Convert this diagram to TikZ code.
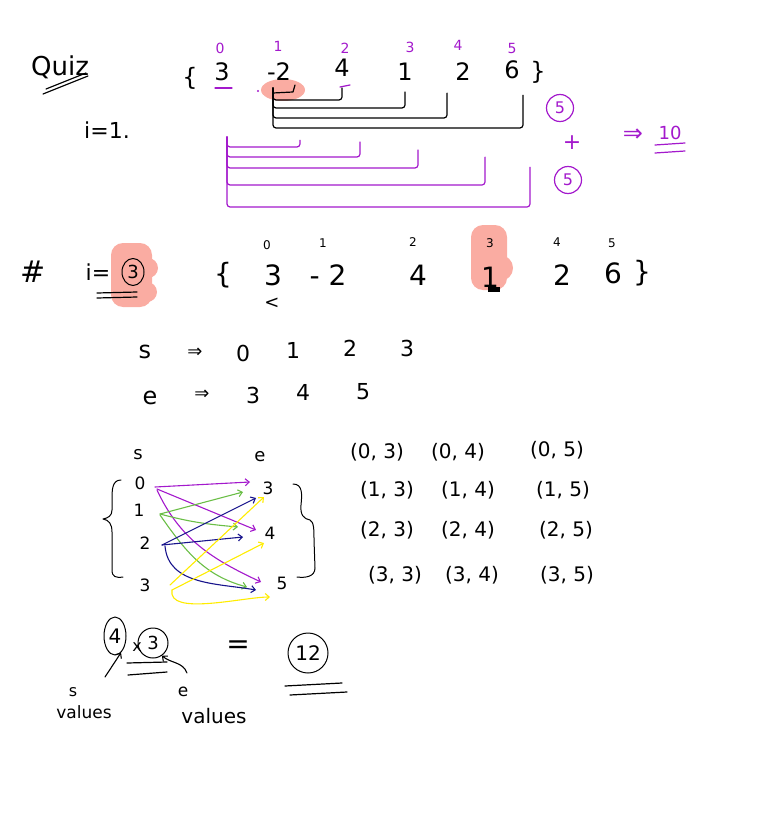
\documentclass[tikz,border=0pt]{standalone}
\usepackage{fontspec}
\setmainfont{DejaVu Sans}
\usetikzlibrary{shapes.geometric, arrows.meta}

\definecolor{penpurple}{RGB}{163,25,204}
\definecolor{hilite}{RGB}{250,172,162}
\definecolor{pengreen}{RGB}{106,190,70}
\definecolor{pennavy}{RGB}{24,20,140}
\definecolor{penyellow}{RGB}{255,236,0}

\newcommand{\fs}[1]{\fontsize{#1}{#1}\selectfont}

\begin{document}
\begin{tikzpicture}[x=1pt, y=-1pt, line cap=round, line join=round,
    >={Straight Barb[length=4pt, width=7pt]},
    every node/.style={inner sep=0pt},
    ink/.style={line width=1.2pt},
    pen/.style={line width=1.2pt, penpurple},
    arr/.style={->, line width=1.1pt},
    big/.style={font=\fs{24}},
    mid/.style={font=\fs{28}},
    idx/.style={font=\fs{14}, penpurple},
    sidx/.style={font=\fs{12}},
    gnum/.style={font=\fs{17}},
    pair/.style={font=\fs{20}}]
    \useasboundingbox (0,0) rectangle (758,829);

    % marker highlights
    \fill[hilite] (283,90) ellipse (22pt and 11pt);
    \fill[hilite, rounded corners=12pt] (111,243) rectangle (152,307);
    \fill[hilite] (148,268) circle (10pt);
    \fill[hilite] (147,292) circle (10pt);
    \fill[hilite, rounded corners=12pt] (471,225) rectangle (507,290);
    \fill[hilite] (500,268) circle (13pt);

    % quiz array
    \node[font=\fs{26}] (quiz) at (60,67) {Quiz};
    \draw[ink] (43,94) -- (88,76);
    \draw[ink] (46,89) -- (86,73);
    \node[font=\fs{22}] (ione) at (107,130) {i=1.};

    \node[big] (lb) at (190,78) {\{};
    \node[big] (v0) at (222,72) {3};
    \node[big] (v1) at (279,72) {-2};
    \node[big] (v2) at (342,68) {4};
    \node[big] (v3) at (405,72) {1};
    \node[big] (v4) at (463,72) {2};
    \node[big] (v5) at (512,70) {6};
    \node[big] (rb) at (538,72) {\}};

    \node[idx] (t0) at (220,48) {0};
    \node[idx] (t1) at (278,46) {1};
    \node[idx] (t2) at (345,48) {2};
    \node[idx] (t3) at (410,47) {3};
    \node[idx] (t4) at (458,45) {4};
    \node[idx] (t5) at (512,48) {5};
    \draw[pen] (215,88) -- (232,88);
    \draw[pen] (340,87) -- (350,85);
    \fill[penpurple] (258,91) circle (1.2pt);

    % subarrays from -2
    \coordinate (hk) at (273,88);
    \draw[ink] (hk) -- ++(0,5) -- (293,92) -- (295,85);
    \draw[ink, rounded corners=3pt] (hk) -- ++(0,12) -| ([yshift=-11pt]v2.south);
    \draw[ink, rounded corners=3pt] (hk) -- ++(0,20) -| ([yshift=-11pt]v3.south);
    \draw[ink, rounded corners=3pt] (hk) -- ++(0,30) -| ([xshift=-16pt,yshift=-12pt]v4.south);
    \draw[ink, rounded corners=3pt] (hk) -- ++(0,40) -| ([xshift=11pt,yshift=-16pt]v5.south);

    % subarrays from 3
    \coordinate (pk) at (227,137);
    \draw[pen, rounded corners=3pt] (pk) -- ++(0,10) -| ([xshift=21pt,yshift=-59pt]v1.south);
    \draw[pen, rounded corners=3pt] (pk) -- ++(0,20) -| ([xshift=18pt,yshift=-65pt]v2.south);
    \draw[pen, rounded corners=3pt] (pk) -- ++(0,31) -| ([xshift=13pt,yshift=-69pt]v3.south);
    \draw[pen, rounded corners=3pt] (pk) -- ++(0,48) -| ([xshift=22pt,yshift=-76pt]v4.south);
    \draw[pen, rounded corners=3pt] (pk) -- ++(0,70) -| ([xshift=18pt,yshift=-88pt]v5.south);

    \node[draw, circle, pen, minimum size=27pt, font=\fs{16}] (c5a) at (560,108) {5};
    \node[font=\fs{22}, penpurple] (plus) at (572,143) {+};
    \node[draw, circle, pen, minimum size=27pt, font=\fs{16}] (c5b) at (568,180) {5};
    \node[font=\fs{24}, penpurple] (imp) at (633,135) {⇒};
    \node[font=\fs{18}, penpurple] (ten) at (670,133) {10};
    \draw[pen] (655,145) -- (685,143);
    \draw[pen] (655,153) -- (685,151);

    % i = 3
    \node[font=\fs{30}] (hash) at (33,272) {\#};
    \node[font=\fs{22}] (ieq) at (98,272) {i=};
    \node[draw, ellipse, line width=1pt, minimum width=22pt, minimum height=27pt, font=\fs{18}] (c3) at (133,272) {3};
    \draw[ink] (97,293) -- (137,292);
    \draw[ink] (97,298) -- (137,297);

    \node[mid] (lb2) at (223,275) {\{};
    \node[mid] (w0) at (273,275) {3};
    \node[mid] (w1) at (328,275) {- 2};
    \node[mid] (w2) at (418,275) {4};
    \node[mid] (w3) at (490,277) {1};
    \node[mid] (w4) at (562,275) {2};
    \node[mid] (w5) at (613,273) {6};
    \node[mid] (rb2) at (642,273) {\}};
    \node[sidx] (u0) at (267,245) {0};
    \node[sidx] (u1) at (323,243) {1};
    \node[sidx] (u2) at (413,242) {2};
    \node[sidx] (u3) at (490,243) {3};
    \node[sidx] (u4) at (557,242) {4};
    \node[sidx] (u5) at (612,243) {5};
    \node[font=\fs{18}] (lt) at (272,303) {<};
    \fill (488,287) rectangle (500,292);

    % s and e values
    \node[font=\fs{24}] (s) at (145,352) {s};
    \node[font=\fs{18}] (sto) at (195,353) {⇒};
    \node[font=\fs{22}] (sv0) at (243,353) {0};
    \node[font=\fs{22}] (sv1) at (293,350) {1};
    \node[font=\fs{22}] (sv2) at (350,348) {2};
    \node[font=\fs{22}] (sv3) at (407,348) {3};
    \node[font=\fs{24}] (e) at (150,398) {e};
    \node[font=\fs{18}] (eto) at (202,395) {⇒};
    \node[font=\fs{22}] (ev3) at (253,395) {3};
    \node[font=\fs{22}] (ev4) at (303,392) {4};
    \node[font=\fs{22}] (ev5) at (363,392) {5};

    % pairing s with e
    \node[font=\fs{18}] (sl) at (138,455) {s};
    \node[font=\fs{18}] (el) at (260,457) {e};
    \node[gnum] (s0) at (140,483) {0};
    \node[gnum] (s1) at (139,510) {1};
    \node[gnum] (s2) at (145,543) {2};
    \node[gnum] (s3) at (145,585) {3};
    \node[gnum] (e3) at (268,488) {3};
    \node[gnum] (e4) at (270,533) {4};
    \node[gnum] (e5) at (282,583) {5};

    \draw[ink, line width=1pt] (121,480) .. controls (112,480) and (112,490) .. (112,500)
        -- (112,510) .. controls (112,516) and (108,518) .. (103,519)
        .. controls (109,520) and (112,524) .. (112,532) -- (112,570)
        .. controls (112,577) and (116,578) .. (123,577);
    \draw[ink, line width=1pt] (293,484) .. controls (303,484) and (302,495) .. (301,505)
        .. controls (300,515) and (304,519) .. (310,520)
        .. controls (314,522) and (314,530) .. (314,540) -- (315,568)
        .. controls (315,577) and (305,578) .. (297,577);

    \draw[arr, penpurple] ([shift={(15,4)}]s0.center) -- ([shift={(-18,-6)}]e3.center);
    \draw[arr, penpurple] ([shift={(17,6)}]s0.center) -- ([shift={(-14,-3)}]e4.center);
    \draw[arr, penpurple] ([shift={(17,7)}]s0.center) to[out=-65, in=155] ([shift={(-21,-1)}]e5.center);
    \draw[arr, pengreen] ([shift={(21,4)}]s1.center) -- ([shift={(-25,4)}]e3.center);
    \draw[arr, pengreen] ([shift={(21,4)}]s1.center) to[out=-15, in=175] ([shift={(-32,-6)}]e4.center);
    \draw[arr, pengreen] ([shift={(21,5)}]s1.center) to[out=-55, in=165] ([shift={(-35,4)}]e5.center);
    \draw[arr, pennavy] ([shift={(17,2)}]s2.center) -- ([shift={(-12,10)}]e3.center);
    \draw[arr, pennavy] ([shift={(17,2)}]s2.center) -- ([shift={(-27,4)}]e4.center);
    \draw[arr, pennavy] ([shift={(20,3)}]s2.center) to[out=-85, in=170] ([shift={(-26,7)}]e5.center);
    \draw[arr, penyellow] ([shift={(25,0)}]s3.center) -- ([shift={(-4,9)}]e3.center);
    \draw[arr, penyellow] ([shift={(27,5)}]s3.center) -- ([shift={(-6,10)}]e4.center);
    \draw[arr, penyellow] ([shift={(27,5)}]s3.center) to[out=-100, in=180, looseness=0.7] ([shift={(-12,14)}]e5.center);

    % all pairs
    \node[pair] (p03) at (377,452) {(0, 3)};
    \node[pair] (p04) at (458,452) {(0, 4)};
    \node[pair] (p05) at (557,450) {(0, 5)};
    \node[pair] (p13) at (387,490) {(1, 3)};
    \node[pair] (p14) at (468,490) {(1, 4)};
    \node[pair] (p15) at (563,490) {(1, 5)};
    \node[pair] (p23) at (387,530) {(2, 3)};
    \node[pair] (p24) at (468,530) {(2, 4)};
    \node[pair] (p25) at (566,530) {(2, 5)};
    \node[pair] (p33) at (395,575) {(3, 3)};
    \node[pair] (p34) at (472,575) {(3, 4)};
    \node[pair] (p35) at (567,575) {(3, 5)};

    % count
    \node[draw, ellipse, line width=1pt, minimum width=22pt, minimum height=38pt, font=\fs{20}] (c4) at (115,636) {4};
    \node[font=\fs{16}] (times) at (137,647) {x};
    \node[draw, circle, line width=1pt, minimum size=30pt, font=\fs{18}] (c3b) at (153,643) {3};
    \draw[ink] (127,663) -- (167,662);
    \draw[ink] (128,675) -- (167,672);
    \node[font=\fs{28}] (eq) at (238,647) {=};
    \node[draw, circle, line width=1pt, minimum size=40pt, font=\fs{20}] (c12) at (308,653) {12};
    \draw[ink] (285,686) -- (342,683);
    \draw[ink] (290,695) -- (347,692);

    \node[font=\fs{16}] (sv) at (73,692) {s};
    \node[font=\fs{17}] (svl) at (84,712) {values};
    \node[font=\fs{17}] (ev) at (183,692) {e};
    \node[font=\fs{20}] (evl) at (214,716) {values};
    \draw[arr] ([shift={(32,-15)}]sv.center) -- (c4.-70);
    \draw[arr] ([shift={(4,-19)}]ev.center) to[out=110, in=-40] (c3b.-55);
\end{tikzpicture}
\end{document}
